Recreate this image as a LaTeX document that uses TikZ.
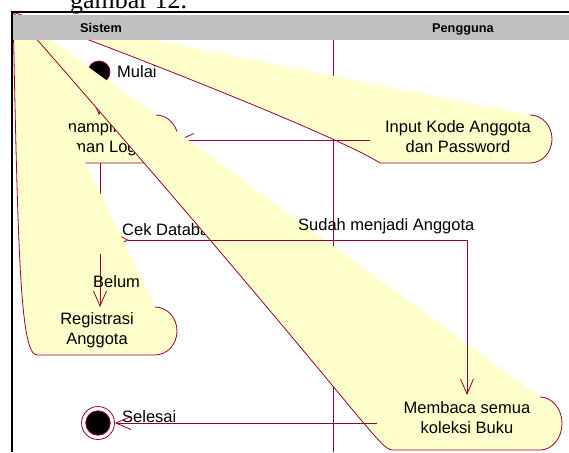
\documentclass[tikz,border=0pt]{standalone}
\usepackage{fontspec}
\setmainfont{Liberation Sans}
\newfontfamily\capfont{Liberation Serif}
\usetikzlibrary{arrows.meta,shapes.geometric}

\definecolor{roseRed}{HTML}{990033}
\definecolor{roseYel}{HTML}{FFFFCC}
\definecolor{laneGray}{HTML}{C0C0C0}

\begin{document}
\begin{tikzpicture}[
    x=1pt, y=-1pt,
    wedge/.style={fill=roseYel},
    rim/.style={draw=roseRed, line width=0.8pt},
    flow/.style={rim, -{Straight Barb[length=15pt, width=13pt]}},
    txt/.style={font=\fontsize{16.5}{20}\selectfont, inner sep=0pt, anchor=base},
    lbl/.style={txt, anchor=base west},
    head/.style={font=\fontsize{12.7}{15}\selectfont\bfseries,
                 inner sep=0pt, anchor=base west},
]
\useasboundingbox (0,0) rectangle (569,452);
\clip (0,0) rectangle (569,452);
\fill[white] (0,0) rectangle (569,452);

% every activity box gets pulled back to this point
\coordinate (corner) at (13,12);

% caption line of the page, cut by the top edge
\node[font=\capfont\fontsize{26}{30}\selectfont, inner sep=0pt, anchor=base west]
    (caption) at (70,8.5) {gambar 12.};

% --- swimlane divider ---
\draw[rim] (333,40.5) -- (333,452);

% --- Input Kode Anggota (Pengguna) ---
\fill[wedge] (corner) -- (530,115)
    arc[start angle=-90, end angle=90, x radius=22, y radius=24]
    -- (380,163) .. controls (340,137) and (120,50) .. (corner);
\draw[rim] (530,115)
    arc[start angle=-90, end angle=90, x radius=22, y radius=24]
    -- (380,163) .. controls (340,137) and (120,50) .. (corner);
\node[txt] (input-a) at (458,132.5) {Input Kode Anggota};
\node[txt] (input-b) at (458,152.5) {dan Password};

% --- Menampilkan Halaman Login (Sistem) ---
\fill[wedge] (corner) -- (156,115)
    arc[start angle=-90, end angle=90, x radius=22, y radius=24]
    -- (45,163) .. controls (28,163) and (22,130) .. (corner);
\draw[rim] (156,115)
    arc[start angle=-90, end angle=90, x radius=22, y radius=24]
    -- (45,163) .. controls (28,163) and (22,130) .. (corner);
\node[txt] (login-a) at (94,132.5) {Menampilkan};
\node[txt] (login-b) at (94,152.5) {Halaman Login};

% start state
\node[circle, fill=black, draw=roseRed, line width=0.8pt,
      minimum size=22pt, inner sep=0pt] (start) at (99,72) {};
\node[lbl] (start-lbl) at (117,77) {Mulai};
\coordinate (login-n) at (99,115);
\draw[flow] (start) -- (login-n);

% user input goes back to the login page
\coordinate (input-w) at (370,140);
\coordinate (login-e) at (178,140);
\draw[flow] (input-w) -- (login-e);

% --- decision ---
\node[diamond, draw=roseRed, fill=roseYel, line width=0.8pt,
      minimum width=56pt, minimum height=28pt, inner sep=0pt]
    (check) at (100,240) {};
\node[lbl] (check-lbl) at (122,235) {Cek Database};
\coordinate (login-s) at (100,163);
\draw[flow] (login-s) -- (check.north);

% --- Registrasi Anggota (Sistem) ---
\fill[wedge] (corner) -- (155,307)
    arc[start angle=-90, end angle=90, x radius=22, y radius=24]
    -- (37,355) .. controls (20,355) and (18,250) .. (corner);
\draw[rim] (155,307)
    arc[start angle=-90, end angle=90, x radius=22, y radius=24]
    -- (37,355) .. controls (20,355) and (18,250) .. (corner);
\node[txt] (regist-a) at (97,324.5) {Registrasi};
\node[txt] (regist-b) at (97,344.5) {Anggota};

\coordinate (regist-n) at (100,307);
\draw[flow] (check.south) -- (regist-n);
\node[lbl] (no-lbl) at (93,287) {Belum};

% --- Membaca semua koleksi Buku (Pengguna) ---
\fill[wedge] (corner) -- (540,397)
    arc[start angle=-90, end angle=90, x radius=22, y radius=26.5]
    -- (393,450) .. controls (378,450) and (368,418) .. (corner);
\draw[rim] (540,397)
    arc[start angle=-90, end angle=90, x radius=22, y radius=26.5]
    -- (393,450) .. controls (378,450) and (368,418) .. (corner);
\node[txt] (read-a) at (467,413.5) {Membaca semua};
\node[txt] (read-b) at (467,433) {koleksi Buku};

\coordinate (read-n) at (467,395);
\draw[flow] (check.east) -| (read-n);
\node[lbl] (yes-lbl) at (298,230) {Sudah menjadi Anggota};

% end state
\node[circle, draw=roseRed, fill=white, line width=0.8pt,
      minimum size=33pt, inner sep=0pt] (stop) at (98,423) {};
\node[circle, draw=roseRed, fill=black, line width=0.8pt,
      minimum size=24.5pt, inner sep=0pt] (stop-dot) at (stop) {};
\node[lbl] (stop-lbl) at (122,422) {Selesai};
\coordinate (read-w) at (377,423);
\draw[flow] (read-w) -- (stop);

% --- lane header and frame ---
\fill[laneGray] (13.3,15) rectangle (569,40.5);
\node[head] (lane-sys) at (80,33) {Sistem};
\node[head] (lane-usr) at (432,33) {Pengguna};
\draw[line width=2.2pt] (12,452) -- (12,12.2) -- (569,12.2);

\end{tikzpicture}
\end{document}
